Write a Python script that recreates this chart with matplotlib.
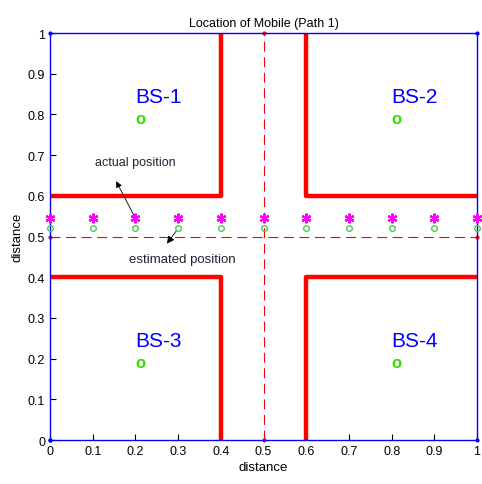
import numpy as np
import matplotlib
matplotlib.use("Agg")
import matplotlib.pyplot as plt

plt.rcParams['font.family'] = ['Liberation Sans', 'DejaVu Sans']

# Path points (actual and estimated)
path_x = [0.0, 0.1, 0.2, 0.3, 0.4, 0.5, 0.6, 0.7, 0.8, 0.9, 1.0]
actual_y = [0.545] * 11
estimated_y = [0.52] * 11

# Base stations
bs_names = ['BS-1', 'BS-2', 'BS-3', 'BS-4']
bs_x = [0.2, 0.8, 0.2, 0.8]
bs_y = [0.8, 0.8, 0.2, 0.2]

# Walls (building outlines)
walls = [
    ([0.0, 0.4, 0.4], [0.6, 0.6, 1.0]),
    ([0.6, 0.6, 1.0], [1.0, 0.6, 0.6]),
    ([0.0, 0.4, 0.4], [0.4, 0.4, 0.0]),
    ([0.6, 0.6, 1.0], [0.0, 0.4, 0.4]),
]
border_x = [0, 1, 1, 0, 0]
border_y = [0, 0, 1, 1, 0]
ticks = [0, 0.1, 0.2, 0.3, 0.4, 0.5, 0.6, 0.7, 0.8, 0.9, 1]
tick_labels = ['0', '0.1', '0.2', '0.3', '0.4', '0.5', '0.6', '0.7', '0.8', '0.9', '1']

fig = plt.figure(figsize=(4.82, 4.85), dpi=100)
ax = fig.add_axes([0.1037, 0.0907, 0.886, 0.839])

ax.plot(border_x, border_y, '.-', color='blue', lw=1, ms=4, clip_on=False, zorder=3)
for wx, wy in walls:
    ax.plot(wx, wy, color='red', lw=3.2, solid_capstyle='butt', clip_on=False)
ax.plot([0, 1], [0.5, 0.5], '.--', color='red', lw=0.8, ms=4, dashes=(9, 5), clip_on=False)
ax.plot([0.5, 0.5], [0, 1], '.--', color='red', lw=0.8, ms=4, dashes=(9, 5), clip_on=False)

# actual positions (asterisks) and estimated positions ('o')
ax.plot(path_x, actual_y, linestyle='none', marker=(6, 2, 0), ms=7, mew=1.6,
        color='magenta', clip_on=False, zorder=4)
ax.plot(path_x, estimated_y, linestyle='none', marker='o', ms=4, mew=1.0,
        mfc='none', mec='#44cc44', clip_on=False, zorder=4)

for name, x, y in zip(bs_names, bs_x, bs_y):
    ax.text(x, y + 0.02, name, color='blue', fontsize=15, ha='left', va='bottom')
    ax.text(x, y - 0.01, 'o', color='#33dd00', fontsize=12, fontweight='bold', ha='left', va='center')

ax.annotate('', xy=(0.152, 0.642), xytext=(0.2, 0.545),
            arrowprops=dict(arrowstyle='-|>', color='black', lw=0.6, mutation_scale=9))
ax.text(0.2, 0.683, 'actual position', fontsize=9, ha='center', va='center', color='#222233')
ax.annotate('', xy=(0.27, 0.477), xytext=(0.3, 0.52),
            arrowprops=dict(arrowstyle='-|>', color='black', lw=0.6, mutation_scale=11))
ax.text(0.31, 0.445, 'estimated position', fontsize=9.5, ha='center', va='center', color='#222233')

ax.set_xlim(0, 1)
ax.set_ylim(0, 1)
ax.set_xticks(ticks)
ax.set_xticklabels(tick_labels)
ax.set_yticks(ticks)
ax.set_yticklabels(tick_labels)
ax.tick_params(direction='in', length=4, labelsize=9, top=False, right=False)
for s in ax.spines.values():
    s.set_visible(False)
ax.set_xlabel('distance', fontsize=9.5, labelpad=3)
ax.set_ylabel('distance', fontsize=9.5, labelpad=3)
ax.set_title('Location of Mobile (Path 1)', fontsize=9, pad=5)

fig.savefig('out.png', dpi=100)
